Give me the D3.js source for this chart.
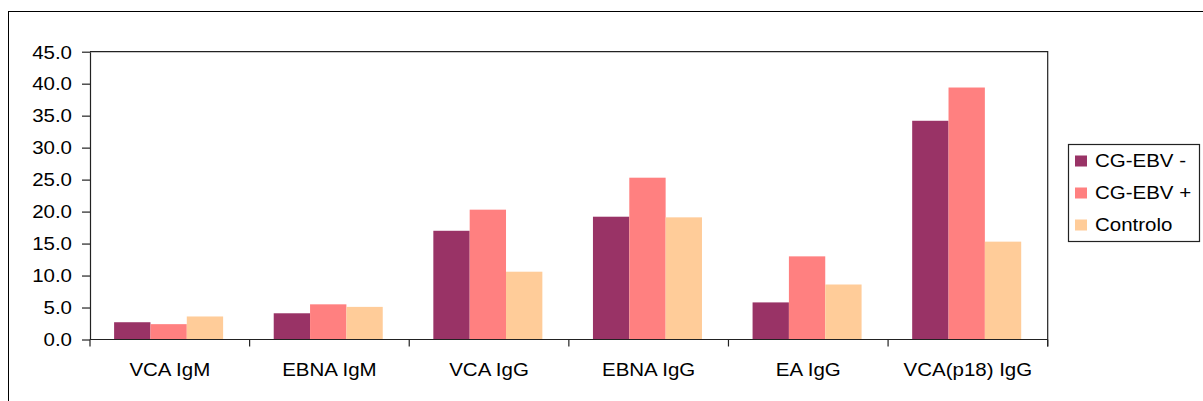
<!DOCTYPE html>
<html>
<head>
<meta charset="utf-8">
<script src="https://cdn.jsdelivr.net/npm/d3@7"></script>
<style>
  html, body { margin: 0; padding: 0; background: #fff; }
  svg { display: block; }
  text { font-family: "Liberation Sans", Arial, sans-serif; fill: #000; }
</style>
</head>
<body>
<svg id="chart" width="1203" height="401"></svg>
<script>
// Antibody titres per marker, three groups
const categories = ["VCA IgM", "EBNA IgM", "VCA IgG", "EBNA IgG", "EA IgG", "VCA(p18) IgG"];
const seriesNames = ["CG-EBV -", "CG-EBV +", "Controlo"];
const ebvNeg   = [2.7, 4.1, 17.0, 19.2, 5.8, 34.2];
const ebvPos   = [2.4, 5.5, 20.3, 25.3, 13.0, 39.4];
const controlo = [3.6, 5.1, 10.6, 19.1, 8.6, 15.3];
const yTicks = [0, 5, 10, 15, 20, 25, 30, 35, 40, 45];
const colors = ["#993366", "#FF8080", "#FFCC99"];

const seriesValues = [ebvNeg, ebvPos, controlo];

const FONT = 17.5;      // px
const STRETCH = 1.17;   // horizontal widening of the labels

const svg = d3.select("#chart");

// plot area bounds
const plotLeft = 90, plotRight = 1047.7, plotTop = 51.7, plotBottom = 339.5;

// outer chart border (runs past the right and bottom edges)
svg.append("rect")
  .attr("x", 8.5).attr("y", 11.5)
  .attr("width", 1400).attr("height", 600)
  .attr("fill", "none").attr("stroke", "#000").attr("stroke-width", 1);

const x0 = d3.scaleBand().domain(categories).range([plotLeft, plotRight]).padding(0);
const x1 = d3.scaleBand().domain(seriesNames)
  .range([x0.bandwidth() * 0.151, x0.bandwidth() * 0.834]).padding(0);
const y = d3.scaleLinear().domain([0, 45]).range([plotBottom, plotTop]);

function widen(sel) {
  sel.each(function () {
    const len = this.getComputedTextLength();
    d3.select(this).attr("textLength", len * STRETCH).attr("lengthAdjust", "spacingAndGlyphs");
  });
}

// plot frame: top and right edges
svg.append("path")
  .attr("d", `M${plotLeft},${plotTop}H${plotRight}V${plotBottom + 7}`)
  .attr("fill", "none").attr("stroke", "#222").attr("stroke-width", 1.2);

// bars
const rows = categories.map((c, i) => ({ cat: c, vals: seriesNames.map((s, j) => ({ s, v: seriesValues[j][i], j })) }));
const groups = svg.append("g").selectAll("g").data(rows).join("g")
  .attr("transform", d => `translate(${x0(d.cat)},0)`);
groups.selectAll("rect").data(d => d.vals).join("rect")
  .attr("x", d => x1(d.s))
  .attr("width", x1.bandwidth())
  .attr("y", d => y(d.v))
  .attr("height", d => y(0) - y(d.v))
  .attr("fill", d => colors[d.j]);

// y axis
const yAxis = svg.append("g").attr("transform", `translate(${plotLeft},0)`)
  .call(d3.axisLeft(y).tickValues(yTicks).tickFormat(d3.format(".1f")).tickSize(8).tickSizeOuter(0).tickPadding(10));
yAxis.select(".domain").attr("stroke", "#222").attr("stroke-width", 1.2);
yAxis.selectAll(".tick line").attr("stroke", "#222").attr("stroke-width", 1.2);
yAxis.selectAll(".tick text")
  .attr("font-size", FONT).attr("font-family", "Liberation Sans, Arial, sans-serif")
  .attr("fill", "#000").attr("dy", "0.36em")
  .call(widen);

// x axis baseline and boundary ticks
const xAxis = svg.append("g").attr("transform", `translate(0,${plotBottom})`);
xAxis.append("line").attr("x1", plotLeft).attr("x2", plotRight).attr("y1", 0).attr("y2", 0)
  .attr("stroke", "#222").attr("stroke-width", 1.2);
xAxis.selectAll("line.bt").data(d3.range(categories.length + 1)).join("line")
  .attr("class", "bt")
  .attr("x1", i => x0.range()[0] + i * x0.step())
  .attr("x2", i => x0.range()[0] + i * x0.step())
  .attr("y1", 0).attr("y2", 7)
  .attr("stroke", "#222").attr("stroke-width", 1.2);
xAxis.selectAll("text").data(categories).join("text")
  .attr("x", d => x0(d) + x0.bandwidth() / 2)
  .attr("y", 36)
  .attr("text-anchor", "middle")
  .attr("font-size", FONT)
  .text(d => d)
  .call(widen);

// legend
const lg = svg.append("g").attr("transform", "translate(1068,144)");
lg.append("rect").attr("x", 0.5).attr("y", 0.5).attr("width", 131).attr("height", 97)
  .attr("fill", "#fff").attr("stroke", "#222").attr("stroke-width", 1.2);
const items = lg.selectAll("g.item").data(seriesNames).join("g")
  .attr("class", "item")
  .attr("transform", (d, i) => `translate(0,${17 + i * 32})`);
items.append("rect").attr("x", 7).attr("y", -5.5).attr("width", 12).attr("height", 11)
  .attr("fill", (d, i) => colors[i]);
items.append("text").attr("x", 27).attr("y", 0).attr("dy", "0.36em")
  .attr("font-size", FONT).text(d => d)
  .call(widen);
</script>
</body>
</html>
